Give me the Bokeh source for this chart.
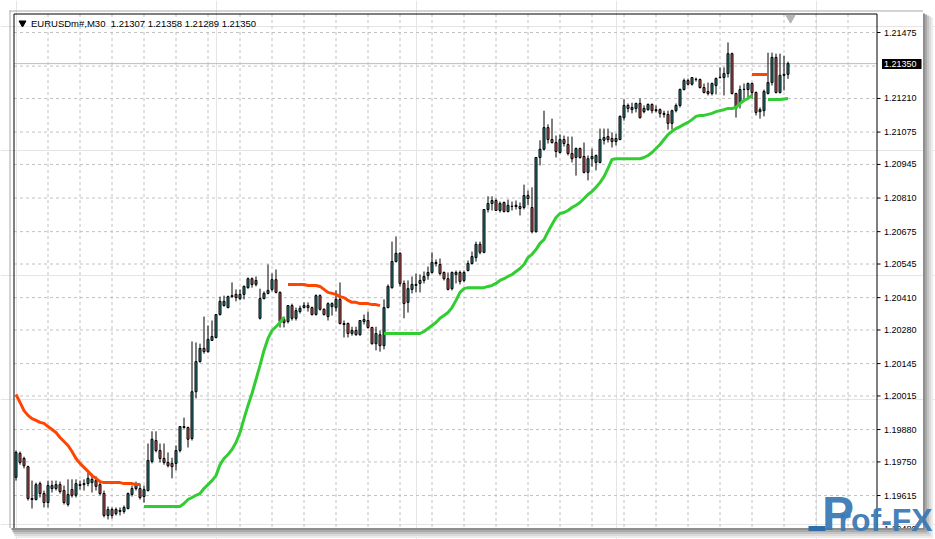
from bokeh.plotting import figure
from bokeh.models import Range1d, ColumnDataSource
from bokeh.embed import file_html
from bokeh.resources import INLINE
from bokeh.core.properties import value

# ---------------- data (EURUSDm#, M30) ----------------
symbol = "EURUSDm#,M30"
bid_price = 1.21350

opens = [
    1.19688, 1.19784, 1.19764, 1.19731, 1.19603, 1.19599, 1.19663, 1.19623, 1.19587, 1.19643,
    1.19643, 1.19659, 1.19635, 1.19579, 1.19639, 1.19616, 1.19659, 1.19659, 1.19663, 1.19667,
    1.19675, 1.19659, 1.19623, 1.19535, 1.19559, 1.19542, 1.19555, 1.19551, 1.19563, 1.19619,
    1.19643, 1.19643, 1.19611, 1.19635, 1.19752, 1.19836, 1.19796, 1.19764, 1.19748, 1.19744,
    1.19744, 1.19796, 1.19892, 1.19888, 1.19844, 1.20032, 1.20153, 1.20206, 1.20193, 1.20238,
    1.20250, 1.20342, 1.20378, 1.20370, 1.20414, 1.20423, 1.20406, 1.20423, 1.20450, 1.20486,
    1.20463, 1.20327, 1.20406, 1.20427, 1.20443, 1.20482, 1.20431, 1.20322, 1.20314, 1.20378,
    1.20327, 1.20354, 1.20370, 1.20378, 1.20370, 1.20342, 1.20418, 1.20363, 1.20334, 1.20374,
    1.20370, 1.20403, 1.20306, 1.20306, 1.20266, 1.20278, 1.20261, 1.20314, 1.20318, 1.20290,
    1.20225, 1.20261, 1.20217, 1.20370, 1.20450, 1.20555, 1.20588, 1.20467, 1.20391, 1.20443,
    1.20463, 1.20467, 1.20479, 1.20499, 1.20511, 1.20551, 1.20543, 1.20511, 1.20486, 1.20446,
    1.20511, 1.20511, 1.20479, 1.20519, 1.20547, 1.20571, 1.20624, 1.20592, 1.20764, 1.20788,
    1.20800, 1.20760, 1.20792, 1.20756, 1.20776, 1.20776, 1.20776, 1.20772, 1.20820, 1.20772,
    1.20675, 1.20973, 1.21006, 1.21093, 1.21045, 1.21033, 1.20993, 1.21045, 1.21025, 1.20989,
    1.20973, 1.21009, 1.20977, 1.20913, 1.20968, 1.20953, 1.20953, 1.21042, 1.21057, 1.21049,
    1.21037, 1.21045, 1.21133, 1.21182, 1.21165, 1.21170, 1.21190, 1.21157, 1.21165, 1.21186,
    1.21165, 1.21165, 1.21150, 1.21146, 1.21110, 1.21161, 1.21182, 1.21246, 1.21282, 1.21267,
    1.21286, 1.21286, 1.21254, 1.21238, 1.21230, 1.21262, 1.21294, 1.21294, 1.21310, 1.21390,
    1.21230, 1.21190, 1.21246, 1.21246, 1.21270, 1.21234, 1.21157, 1.21161, 1.21230, 1.21274,
    1.21375, 1.21234, 1.21303, 1.21307,
]

highs = [
    1.19796, 1.19792, 1.19771, 1.19735, 1.19675, 1.19667, 1.19671, 1.19635, 1.19675, 1.19675,
    1.19675, 1.19671, 1.19655, 1.19680, 1.19680, 1.19680, 1.19675, 1.19680, 1.19707, 1.19703,
    1.19692, 1.19671, 1.19635, 1.19571, 1.19567, 1.19567, 1.19567, 1.19575, 1.19627, 1.19655,
    1.19671, 1.19663, 1.19655, 1.19824, 1.19873, 1.19873, 1.19824, 1.19824, 1.19788, 1.19767,
    1.19816, 1.19892, 1.19928, 1.19892, 1.20234, 1.20230, 1.20225, 1.20334, 1.20298, 1.20318,
    1.20342, 1.20414, 1.20418, 1.20418, 1.20471, 1.20443, 1.20443, 1.20459, 1.20491, 1.20491,
    1.20495, 1.20446, 1.20435, 1.20543, 1.20507, 1.20523, 1.20435, 1.20334, 1.20378, 1.20386,
    1.20370, 1.20378, 1.20391, 1.20391, 1.20374, 1.20423, 1.20423, 1.20367, 1.20391, 1.20391,
    1.20439, 1.20471, 1.20318, 1.20310, 1.20293, 1.20293, 1.20318, 1.20342, 1.20354, 1.20293,
    1.20293, 1.20278, 1.20403, 1.20463, 1.20635, 1.20656, 1.20592, 1.20479, 1.20479, 1.20495,
    1.20507, 1.20503, 1.20515, 1.20535, 1.20592, 1.20563, 1.20567, 1.20515, 1.20511, 1.20515,
    1.20519, 1.20519, 1.20519, 1.20559, 1.20595, 1.20635, 1.20635, 1.20764, 1.20817, 1.20817,
    1.20808, 1.20796, 1.20796, 1.20804, 1.20796, 1.20800, 1.20792, 1.20864, 1.20840, 1.20853,
    1.20973, 1.21042, 1.21161, 1.21106, 1.21129, 1.21061, 1.21065, 1.21061, 1.21057, 1.21057,
    1.21013, 1.21013, 1.21033, 1.20981, 1.21009, 1.20985, 1.21089, 1.21089, 1.21089, 1.21074,
    1.21069, 1.21142, 1.21206, 1.21190, 1.21193, 1.21193, 1.21210, 1.21182, 1.21190, 1.21190,
    1.21182, 1.21170, 1.21161, 1.21161, 1.21165, 1.21190, 1.21250, 1.21290, 1.21290, 1.21294,
    1.21294, 1.21290, 1.21270, 1.21274, 1.21274, 1.21294, 1.21335, 1.21335, 1.21435, 1.21394,
    1.21233, 1.21262, 1.21270, 1.21274, 1.21274, 1.21238, 1.21174, 1.21246, 1.21394, 1.21394,
    1.21390, 1.21390, 1.21382, 1.21358,
]

lows = [
    1.19675, 1.19739, 1.19724, 1.19595, 1.19563, 1.19595, 1.19607, 1.19567, 1.19567, 1.19627,
    1.19635, 1.19623, 1.19579, 1.19571, 1.19607, 1.19607, 1.19639, 1.19635, 1.19652, 1.19627,
    1.19635, 1.19616, 1.19527, 1.19519, 1.19523, 1.19535, 1.19535, 1.19542, 1.19559, 1.19611,
    1.19635, 1.19599, 1.19587, 1.19631, 1.19744, 1.19788, 1.19748, 1.19739, 1.19728, 1.19684,
    1.19716, 1.19788, 1.19884, 1.19808, 1.19836, 1.20005, 1.20149, 1.20185, 1.20189, 1.20238,
    1.20246, 1.20338, 1.20374, 1.20367, 1.20410, 1.20395, 1.20399, 1.20403, 1.20446, 1.20450,
    1.20455, 1.20322, 1.20403, 1.20423, 1.20435, 1.20427, 1.20290, 1.20290, 1.20306, 1.20318,
    1.20318, 1.20346, 1.20367, 1.20354, 1.20338, 1.20338, 1.20358, 1.20338, 1.20318, 1.20338,
    1.20354, 1.20302, 1.20250, 1.20250, 1.20257, 1.20257, 1.20257, 1.20302, 1.20286, 1.20221,
    1.20198, 1.20193, 1.20202, 1.20367, 1.20446, 1.20551, 1.20455, 1.20327, 1.20350, 1.20427,
    1.20431, 1.20431, 1.20467, 1.20482, 1.20507, 1.20535, 1.20499, 1.20479, 1.20439, 1.20439,
    1.20467, 1.20463, 1.20471, 1.20515, 1.20543, 1.20555, 1.20584, 1.20588, 1.20752, 1.20760,
    1.20760, 1.20752, 1.20752, 1.20752, 1.20760, 1.20764, 1.20740, 1.20764, 1.20781, 1.20668,
    1.20671, 1.20941, 1.21001, 1.21029, 1.21029, 1.20973, 1.20989, 1.21017, 1.20981, 1.20953,
    1.20900, 1.20968, 1.20909, 1.20881, 1.20936, 1.20921, 1.20949, 1.21025, 1.21033, 1.21013,
    1.21021, 1.21042, 1.21121, 1.21154, 1.21150, 1.21154, 1.21129, 1.21150, 1.21161, 1.21150,
    1.21154, 1.21133, 1.21133, 1.21085, 1.21085, 1.21154, 1.21174, 1.21242, 1.21262, 1.21262,
    1.21278, 1.21250, 1.21230, 1.21222, 1.21222, 1.21226, 1.21290, 1.21222, 1.21294, 1.21226,
    1.21133, 1.21170, 1.21206, 1.21210, 1.21210, 1.21142, 1.21129, 1.21138, 1.21226, 1.21262,
    1.21230, 1.21230, 1.21242, 1.21289,
]

closes = [
    1.19788, 1.19748, 1.19735, 1.19603, 1.19599, 1.19659, 1.19623, 1.19587, 1.19655, 1.19655,
    1.19659, 1.19631, 1.19587, 1.19619, 1.19616, 1.19663, 1.19655, 1.19663, 1.19684, 1.19680,
    1.19652, 1.19623, 1.19535, 1.19559, 1.19535, 1.19559, 1.19551, 1.19567, 1.19623, 1.19643,
    1.19659, 1.19607, 1.19639, 1.19756, 1.19841, 1.19796, 1.19764, 1.19748, 1.19735, 1.19731,
    1.19796, 1.19892, 1.19888, 1.19841, 1.20032, 1.20153, 1.20206, 1.20193, 1.20242, 1.20254,
    1.20342, 1.20395, 1.20395, 1.20414, 1.20418, 1.20410, 1.20423, 1.20455, 1.20486, 1.20463,
    1.20479, 1.20406, 1.20427, 1.20439, 1.20482, 1.20431, 1.20314, 1.20310, 1.20378, 1.20327,
    1.20358, 1.20367, 1.20378, 1.20370, 1.20342, 1.20418, 1.20363, 1.20342, 1.20386, 1.20386,
    1.20403, 1.20306, 1.20302, 1.20266, 1.20278, 1.20261, 1.20318, 1.20322, 1.20290, 1.20225,
    1.20266, 1.20217, 1.20370, 1.20455, 1.20555, 1.20588, 1.20467, 1.20386, 1.20446, 1.20463,
    1.20459, 1.20479, 1.20495, 1.20511, 1.20551, 1.20547, 1.20507, 1.20486, 1.20443, 1.20511,
    1.20503, 1.20475, 1.20511, 1.20547, 1.20575, 1.20624, 1.20592, 1.20764, 1.20788, 1.20800,
    1.20760, 1.20788, 1.20756, 1.20781, 1.20777, 1.20781, 1.20768, 1.20820, 1.20808, 1.20675,
    1.20973, 1.21006, 1.21093, 1.21045, 1.21033, 1.20997, 1.21045, 1.21029, 1.20989, 1.20968,
    1.21009, 1.20973, 1.20913, 1.20968, 1.20977, 1.20981, 1.21045, 1.21053, 1.21045, 1.21037,
    1.21049, 1.21138, 1.21182, 1.21170, 1.21174, 1.21190, 1.21133, 1.21170, 1.21186, 1.21161,
    1.21161, 1.21150, 1.21146, 1.21110, 1.21161, 1.21182, 1.21246, 1.21282, 1.21267, 1.21294,
    1.21287, 1.21254, 1.21234, 1.21230, 1.21270, 1.21290, 1.21295, 1.21310, 1.21390, 1.21230,
    1.21170, 1.21246, 1.21247, 1.21270, 1.21234, 1.21154, 1.21165, 1.21238, 1.21274, 1.21375,
    1.21234, 1.21303, 1.21307, 1.21350,
]

# trailing-stop line above price (down-trend), orange-red
stop_down_1_start = 0
stop_down_1 = [
    1.20021, 1.19989, 1.19956, 1.19937, 1.19924, 1.19917, 1.19909, 1.19905, 1.19892, 1.19880,
    1.19868, 1.19848, 1.19832, 1.19816, 1.19792, 1.19764, 1.19744, 1.19728, 1.19712, 1.19695,
    1.19684, 1.19671, 1.19667, 1.19667, 1.19667, 1.19667, 1.19667, 1.19663, 1.19663, 1.19663,
    1.19659, 1.19659,
]
stop_down_2_start = 68
stop_down_2 = [
    1.20463, 1.20463, 1.20463, 1.20463, 1.20463, 1.20459, 1.20459, 1.20459, 1.20455, 1.20443,
    1.20431, 1.20427, 1.20423, 1.20414, 1.20410, 1.20399, 1.20391, 1.20391, 1.20386, 1.20386,
    1.20386, 1.20382, 1.20382, 1.20378,
]
stop_down_3_start = 184
stop_down_3 = [1.21306, 1.21306, 1.21306, 1.21306, 1.21306]

# trailing-stop line below price (up-trend), green
stop_up_1_start = 32
stop_up_1 = [
    1.19571, 1.19571, 1.19571, 1.19571, 1.19571, 1.19571, 1.19571, 1.19571, 1.19571, 1.19571,
    1.19583, 1.19599, 1.19607, 1.19616, 1.19623, 1.19643, 1.19659, 1.19675, 1.19695, 1.19739,
    1.19764, 1.19780, 1.19800, 1.19828, 1.19868, 1.19924, 1.19977, 1.20025, 1.20081, 1.20138,
    1.20198, 1.20246, 1.20278, 1.20293, 1.20310, 1.20330,
]
stop_up_2_start = 92
stop_up_2 = [
    1.20266, 1.20266, 1.20266, 1.20266, 1.20266, 1.20266, 1.20266, 1.20266, 1.20266, 1.20266,
    1.20274, 1.20286, 1.20298, 1.20310, 1.20327, 1.20338, 1.20350, 1.20370, 1.20399, 1.20431,
    1.20446, 1.20450, 1.20450, 1.20450, 1.20450, 1.20450, 1.20455, 1.20459, 1.20467, 1.20479,
    1.20486, 1.20495, 1.20503, 1.20515, 1.20527, 1.20543, 1.20571, 1.20584, 1.20603, 1.20628,
    1.20643, 1.20675, 1.20704, 1.20732, 1.20748, 1.20752, 1.20760, 1.20772, 1.20781, 1.20792,
    1.20808, 1.20824, 1.20836, 1.20853, 1.20872, 1.20896, 1.20929, 1.20965, 1.20968, 1.20968,
    1.20968, 1.20968, 1.20968, 1.20968, 1.20968, 1.20973, 1.20981, 1.20993, 1.21009, 1.21025,
    1.21045, 1.21065, 1.21078, 1.21089, 1.21097, 1.21106, 1.21114, 1.21125, 1.21138, 1.21142,
    1.21142, 1.21146, 1.21150, 1.21157, 1.21161, 1.21165, 1.21170, 1.21170, 1.21174, 1.21190,
    1.21202, 1.21210, 1.21222,
]
stop_up_3_start = 188
stop_up_3 = [1.21206, 1.21206, 1.21206, 1.21206, 1.21208, 1.21210]

# price scale
axis_levels = [1.21475, 1.21210, 1.21075, 1.20945, 1.20810, 1.20675, 1.20545, 1.20410,
               1.20280, 1.20145, 1.20015, 1.19880, 1.19750, 1.19615, 1.19480]
grid_levels = [1.21475, 1.21340, 1.21210, 1.21075, 1.20945, 1.20810, 1.20675, 1.20545,
               1.20410, 1.20280, 1.20145, 1.20015, 1.19880, 1.19750, 1.19615]
bars_per_vgrid = 8

# ---------------- layout calibration (pixels -> data) ----------------
W, H = 935, 539
BAR0_PX, PX_PER_BAR = 15.5, 4.0
REF_PY, REF_PRICE, PRICE_PER_PX = 32.0, 1.21475, 0.00004017


def xd(px):
    return (px - BAR0_PX) / PX_PER_BAR


def yd(py):
    return REF_PRICE - (py - REF_PY) * PRICE_PER_PX


FR_L, FR_T, FR_R, FR_B = 13.5, 13.5, 876.5, 527.5     # chart frame (px)
WIN_R, WIN_B = 922.5, 527.5                           # window edge (px)

n = len(opens)
idx = list(range(n))


def full_line(parts):
    out = [float("nan")] * n
    for start, seg in parts:
        for k, v in enumerate(seg):
            out[start + k] = v
    return out


stop_down = full_line([(stop_down_1_start, stop_down_1), (stop_down_2_start, stop_down_2),
                       (stop_down_3_start, stop_down_3)])
stop_up = full_line([(stop_up_1_start, stop_up_1), (stop_up_2_start, stop_up_2),
                     (stop_up_3_start, stop_up_3)])

BULL = "#2E8A8A"
BEAR = "#CF5F5C"
GRID = "#C2C2C2"
src = ColumnDataSource(dict(
    x=idx, o=opens, h=highs, l=lows, c=closes,
    top=[max(a, b) for a, b in zip(opens, closes)],
    bot=[min(a, b) for a, b in zip(opens, closes)],
    col=[BULL if c >= o else BEAR for o, c in zip(opens, closes)],
))

p = figure(
    width=W, height=H,
    x_range=Range1d(xd(0), xd(W)), y_range=Range1d(yd(H), yd(0)),
    output_backend="svg", toolbar_location=None,
    x_axis_location=None, y_axis_location=None,
    min_border_left=0, min_border_right=0, min_border_top=0, min_border_bottom=0,
    background_fill_color="white", border_fill_color="white", outline_line_color=None,
)

# window border (grey) ------------------------------------------------------
p.segment(x0=[xd(9), xd(9.5)], y0=[yd(10.5), yd(10)], x1=[xd(WIN_R), xd(9.5)], y1=[yd(10.5), yd(WIN_B)],
          line_color="#A8A8A8", line_width=1)

# grid -----------------------------------------------------------------------
p.segment(x0=[xd(FR_L)] * len(grid_levels), y0=grid_levels,
          x1=[xd(FR_R)] * len(grid_levels), y1=grid_levels,
          line_color=GRID, line_width=1, line_dash="3 3")
vbars = list(range(bars_per_vgrid, n + 16, bars_per_vgrid))
p.segment(x0=vbars, y0=[yd(FR_T)] * len(vbars), x1=vbars, y1=[yd(FR_B)] * len(vbars),
          line_color=GRID, line_width=1, line_dash="3 3")

# bid line
p.segment(x0=[xd(FR_L)], y0=[bid_price], x1=[xd(FR_R)], y1=[bid_price], line_color="#BDBDBD", line_width=1)

# chart frame ----------------------------------------------------------------
p.segment(x0=[xd(FR_L), xd(FR_L), xd(FR_R)], y0=[yd(FR_T), yd(FR_T), yd(FR_T)],
          x1=[xd(FR_L), xd(FR_R), xd(FR_R)], y1=[yd(FR_B), yd(FR_T), yd(FR_B)],
          line_color="black", line_width=1)

# price scale: ticks + labels
p.segment(x0=[xd(FR_R)] * len(axis_levels), y0=axis_levels,
          x1=[xd(FR_R + 3.5)] * len(axis_levels), y1=axis_levels, line_color="black", line_width=1)
p.text(x=[xd(883.5)] * len(axis_levels), y=axis_levels, text=[f"{v:.5f}" for v in axis_levels],
       text_font=value("Liberation Sans"), text_font_size=value("9px"), text_color="black",
       text_baseline="middle", text_align="left")

# candles --------------------------------------------------------------------
p.segment(x0="x", y0="l", x1="x", y1="h", source=src, line_color="black", line_width=1)
p.vbar(x="x", width=0.5, top="top", bottom="bot", source=src,
       fill_color="col", line_color="black", line_width=1)

# trailing stop lines
p.line(idx, stop_down, line_color="#FF4500", line_width=3)
p.line(idx, stop_up, line_color="#32CD32", line_width=3)

# header ---------------------------------------------------------------------
header = f"{symbol}\u00a0\u00a0{opens[-1]:.5f} {highs[-1]:.5f} {lows[-1]:.5f} {closes[-1]:.5f}"
p.scatter([xd(22)], [yd(22.5)], marker="inverted_triangle", size=7, fill_color="black", line_color="black")
p.text(x=[xd(30.5)], y=[yd(23)], text=[header], text_font=value("Liberation Sans"),
       text_font_size=value("9.5px"), text_color="black", text_baseline="middle", text_align="left")

# chart-shift marker
p.scatter([xd(790)], [yd(17.5)], marker="inverted_triangle", size=9, fill_color="#B4B4B4", line_color="#B4B4B4")

# bid price tag on the scale
p.quad(left=[xd(881.5)], right=[xd(921)], top=[yd(58.5)], bottom=[yd(68.5)], fill_color="black", line_color=None)
p.text(x=[xd(883.5)], y=[bid_price], text=[f"{bid_price:.5f}"], text_font=value("Liberation Sans"),
       text_font_size=value("9px"), text_color="white", text_baseline="middle", text_align="left")

# window shadow (right and bottom) ---------------------------------------------
shade = ["#8E8E8E", "#A9A9A9", "#C3C3C3", "#DADADA", "#ECECEC"]
p.quad(left=[xd(WIN_R + 2 * k) for k in range(5)], right=[xd(WIN_R + 2 * k + 2) for k in range(5)],
       top=[yd(13 + k) for k in range(5)], bottom=[yd(WIN_B + 2 * k + 2) for k in range(5)],
       fill_color=shade, line_color=None)
p.quad(left=[xd(11 + k) for k in range(5)], right=[xd(WIN_R + 2 * k) for k in range(5)],
       top=[yd(WIN_B + 2 * k) for k in range(5)], bottom=[yd(WIN_B + 2 * k + 2) for k in range(5)],
       fill_color=shade, line_color=None)

# watermark --------------------------------------------------------------------
p.quad(left=[xd(808)], right=[xd(825)], top=[yd(525.5)], bottom=[yd(530.5)], fill_color="#2F6CA8", line_color=None)
p.text(x=[xd(821.5)], y=[yd(512.5)], text=["P"], text_font=value("Liberation Sans"), text_font_style="bold",
       text_font_size=value("48px"), text_color="#3A79B5", text_alpha=0.95,
       text_baseline="middle", text_align="left")
p.text(x=[xd(838)], y=[yd(519)], text=["rof-FX"], text_font=value("Liberation Sans"), text_font_style="bold",
       text_font_size=value("32px"), text_color="#3A79B5", text_alpha=0.95,
       text_baseline="middle", text_align="left")

open("out.html", "w").write(file_html(p, INLINE))
